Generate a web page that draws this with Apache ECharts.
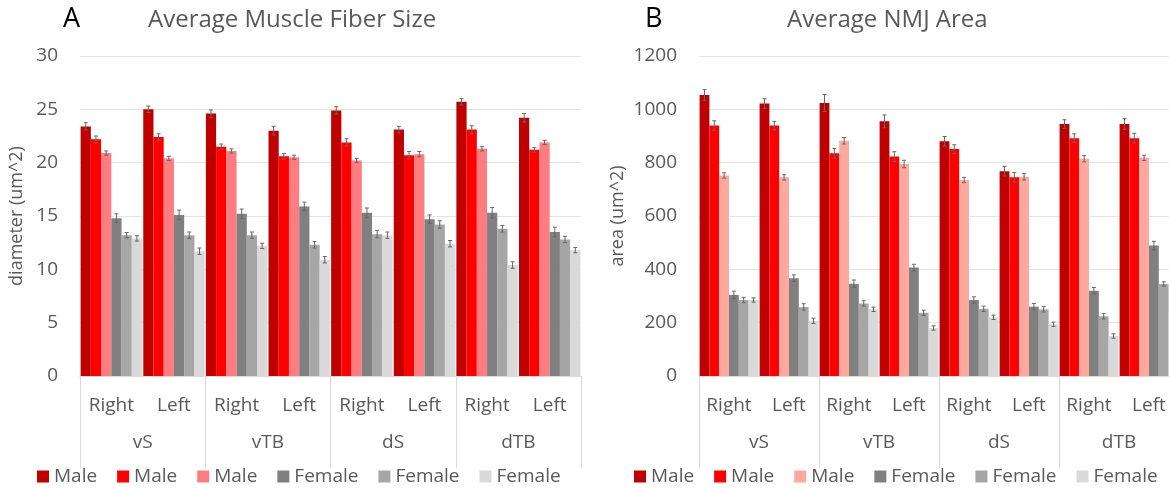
<!DOCTYPE html>
<html>
<head>
<meta charset="utf-8">
<script src="https://cdn.jsdelivr.net/npm/echarts@6/dist/echarts.min.js"></script>
<style>
html,body{margin:0;padding:0;background:#fff;}
#c{width:1169px;height:488px;}
</style>
</head>
<body>
<div id="c"></div>
<script>
// ---- categories ----
const sides = ['Right','Left','Right','Left','Right','Left','Right','Left'];
const muscles = ['vS','vTB','dS','dTB'];
const seriesNames = ['Male','Male','Male','Female','Female','Female'];

// ---- A: Average Muscle Fiber Size (diameter) ----
const fiberMale1   = [23.4, 25.0, 24.6, 23.0, 24.9, 23.1, 25.7, 24.2];
const fiberMale2   = [22.2, 22.4, 21.5, 20.6, 21.9, 20.7, 23.1, 21.2];
const fiberMale3   = [20.9, 20.4, 21.1, 20.5, 20.2, 20.8, 21.3, 21.9];
const fiberFemale1 = [14.8, 15.1, 15.2, 15.9, 15.3, 14.7, 15.3, 13.5];
const fiberFemale2 = [13.2, 13.2, 13.2, 12.3, 13.3, 14.2, 13.8, 12.8];
const fiberFemale3 = [12.9, 11.7, 12.2, 10.9, 13.2, 12.4, 10.4, 11.8];
const fiberErrM1 = [0.35, 0.3, 0.35, 0.4, 0.35, 0.3, 0.3, 0.4];
const fiberErrM2 = [0.3, 0.3, 0.25, 0.25, 0.35, 0.35, 0.35, 0.2];
const fiberErrM3 = [0.2, 0.2, 0.2, 0.2, 0.2, 0.25, 0.2, 0.2];
const fiberErrF1 = [0.4, 0.45, 0.45, 0.4, 0.45, 0.4, 0.5, 0.45];
const fiberErrF2 = [0.25, 0.3, 0.3, 0.3, 0.35, 0.35, 0.3, 0.3];
const fiberErrF3 = [0.25, 0.3, 0.25, 0.3, 0.3, 0.3, 0.3, 0.25];
const fiberTicks = {min: 0, max: 30, interval: 5};

// ---- B: Average NMJ Area ----
const nmjMale1   = [1054, 1022, 1024, 955, 880, 768, 945, 945];
const nmjMale2   = [939, 939, 835, 823, 851, 745, 892, 892];
const nmjMale3   = [752, 745, 882, 795, 735, 747, 815, 818];
const nmjFemale1 = [304, 367, 346, 407, 285, 260, 320, 489];
const nmjFemale2 = [285, 259, 272, 237, 252, 250, 224, 345];
const nmjFemale3 = [285, 207, 250, 180, 220, 194, 150, 235];
const nmjErrM1 = [20, 18, 32, 24, 18, 18, 16, 20];
const nmjErrM2 = [18, 16, 18, 18, 16, 18, 16, 18];
const nmjErrM3 = [10, 10, 12, 14, 10, 12, 12, 10];
const nmjErrF1 = [14, 12, 14, 12, 12, 12, 12, 16];
const nmjErrF2 = [10, 12, 10, 10, 10, 10, 10, 8];
const nmjErrF3 = [8, 10, 8, 8, 8, 8, 8, 8];
const nmjTicks = {min: 0, max: 1200, interval: 200};

const colorsA = ['#C00000','#FF0000','#FF7C80','#808080','#A6A6A6','#D9D9D9'];
const colorsB = ['#C00000','#FF0000','#FFA89E','#808080','#A6A6A6','#D9D9D9'];

const FONT = 'Open Sans';
const TXT = '#595959';
const GAP = 0.02;

function errSeries(vals, errs, xi, yi) {
  const data = [];
  vals.forEach((arr, s) => arr.forEach((v, c) => data.push([c, s, v, errs[s][c]])));
  return {
    type: 'custom', xAxisIndex: xi, yAxisIndex: yi, z: 10, silent: true,
    encode: {x: 0, y: 2},
    data: data,
    renderItem: function (params, api) {
      const c = api.value(0), s = api.value(1), v = api.value(2), e = api.value(3);
      const catW = api.size([1, 0])[0];
      const barW = catW * (1 - GAP) / 6;
      const base = api.coord([c, v]);
      const x = base[0] - catW * (1 - GAP) / 2 + (s + 0.5) * barW;
      const yTop = api.coord([c, v + e])[1];
      const yBot = api.coord([c, v - e])[1];
      const cap = 2;
      const st = {stroke: '#666666', lineWidth: 1};
      return {type: 'group', children: [
        {type: 'line', shape: {x1: x, y1: yTop, x2: x, y2: yBot}, style: st},
        {type: 'line', shape: {x1: x - cap, y1: yTop, x2: x + cap, y2: yTop}, style: st},
        {type: 'line', shape: {x1: x - cap, y1: yBot, x2: x + cap, y2: yBot}, style: st}
      ]};
    }
  };
}

function barSeries(vals, colors, tag, xi, yi) {
  return vals.map((arr, s) => ({
    name: seriesNames[s] + '_' + tag + s,
    type: 'bar', xAxisIndex: xi, yAxisIndex: yi,
    barGap: '0%', barCategoryGap: (GAP * 100) + '%',
    itemStyle: {color: colors[s]},
    data: arr
  }));
}

const fiberVals = [fiberMale1, fiberMale2, fiberMale3, fiberFemale1, fiberFemale2, fiberFemale3];
const fiberErrs = [fiberErrM1, fiberErrM2, fiberErrM3, fiberErrF1, fiberErrF2, fiberErrF3];
const nmjVals = [nmjMale1, nmjMale2, nmjMale3, nmjFemale1, nmjFemale2, nmjFemale3];
const nmjErrs = [nmjErrM1, nmjErrM2, nmjErrM3, nmjErrF1, nmjErrF2, nmjErrF3];

function subAxis(gi) {
  return {
    type: 'category', gridIndex: gi, data: sides, position: 'bottom',
    axisLine: {show: true, lineStyle: {color: '#D9D9D9', width: 1}},
    axisTick: {show: false},
    axisLabel: {interval: 0, margin: 20, fontFamily: FONT, fontSize: 19, color: TXT}
  };
}
function groupAxis(gi) {
  return {
    type: 'category', gridIndex: gi, data: muscles, position: 'bottom',
    axisLine: {show: false},
    axisTick: {show: true, length: 92, interval: 0, lineStyle: {color: '#D9D9D9'}},
    axisLabel: {interval: 0, margin: 57, fontFamily: FONT, fontSize: 19, color: TXT}
  };
}
function yAxis(gi, ticks, name, gap) {
  return {
    type: 'value', gridIndex: gi, min: ticks.min, max: ticks.max, interval: ticks.interval,
    name: name, nameLocation: 'middle', nameGap: gap, nameRotate: 90,
    nameTextStyle: {fontFamily: FONT, fontSize: 18, color: TXT},
    axisLine: {show: false}, axisTick: {show: false},
    axisLabel: {margin: 22, fontFamily: FONT, fontSize: 19, color: TXT, formatter: v => String(v)},
    splitLine: {lineStyle: {color: '#E4E4E4', width: 1}}
  };
}
function legend(tag, left) {
  return {
    left: left, top: 467, padding: 0, itemGap: 20, itemWidth: 12, itemHeight: 12,
    icon: 'rect', selectedMode: false,
    data: seriesNames.map((n, s) => n + '_' + tag + s),
    formatter: n => n.split('_')[0],
    textStyle: {fontFamily: FONT, fontSize: 19, color: TXT}
  };
}

const option = {
  animation: false,
  title: [
    {text: 'A', left: 63, top: 6, padding: 0, textStyle: {fontFamily: FONT, fontSize: 27, fontWeight: 'normal', color: '#000'}},
    {text: 'Average Muscle Fiber Size', left: 148, top: 8, padding: 0, textStyle: {fontFamily: FONT, fontSize: 24, fontWeight: 'normal', color: TXT}},
    {text: 'B', left: 645, top: 6, padding: 0, textStyle: {fontFamily: FONT, fontSize: 27, fontWeight: 'normal', color: '#000'}},
    {text: 'Average NMJ Area', left: 787, top: 8, padding: 0, textStyle: {fontFamily: FONT, fontSize: 24, fontWeight: 'normal', color: TXT}}
  ],
  legend: [legend('A', 37), legend('B', 634)],
  grid: [
    {left: 80, top: 56, width: 501, height: 320, outerBoundsMode: 'none'},
    {left: 699, top: 56, width: 480, height: 320, outerBoundsMode: 'none'}
  ],
  xAxis: [subAxis(0), groupAxis(0), subAxis(1), groupAxis(1)],
  yAxis: [yAxis(0, fiberTicks, 'diameter (um^2)', 54), yAxis(1, nmjTicks, 'area (um^2)', 72)],
  series: [].concat(
    barSeries(fiberVals, colorsA, 'A', 0, 0),
    [errSeries(fiberVals, fiberErrs, 0, 0)],
    barSeries(nmjVals, colorsB, 'B', 2, 1),
    [errSeries(nmjVals, nmjErrs, 2, 1)]
  )
};

const chart = echarts.init(document.getElementById('c'), null, {renderer: 'canvas'});
chart.setOption(option);
</script>
</body>
</html>
